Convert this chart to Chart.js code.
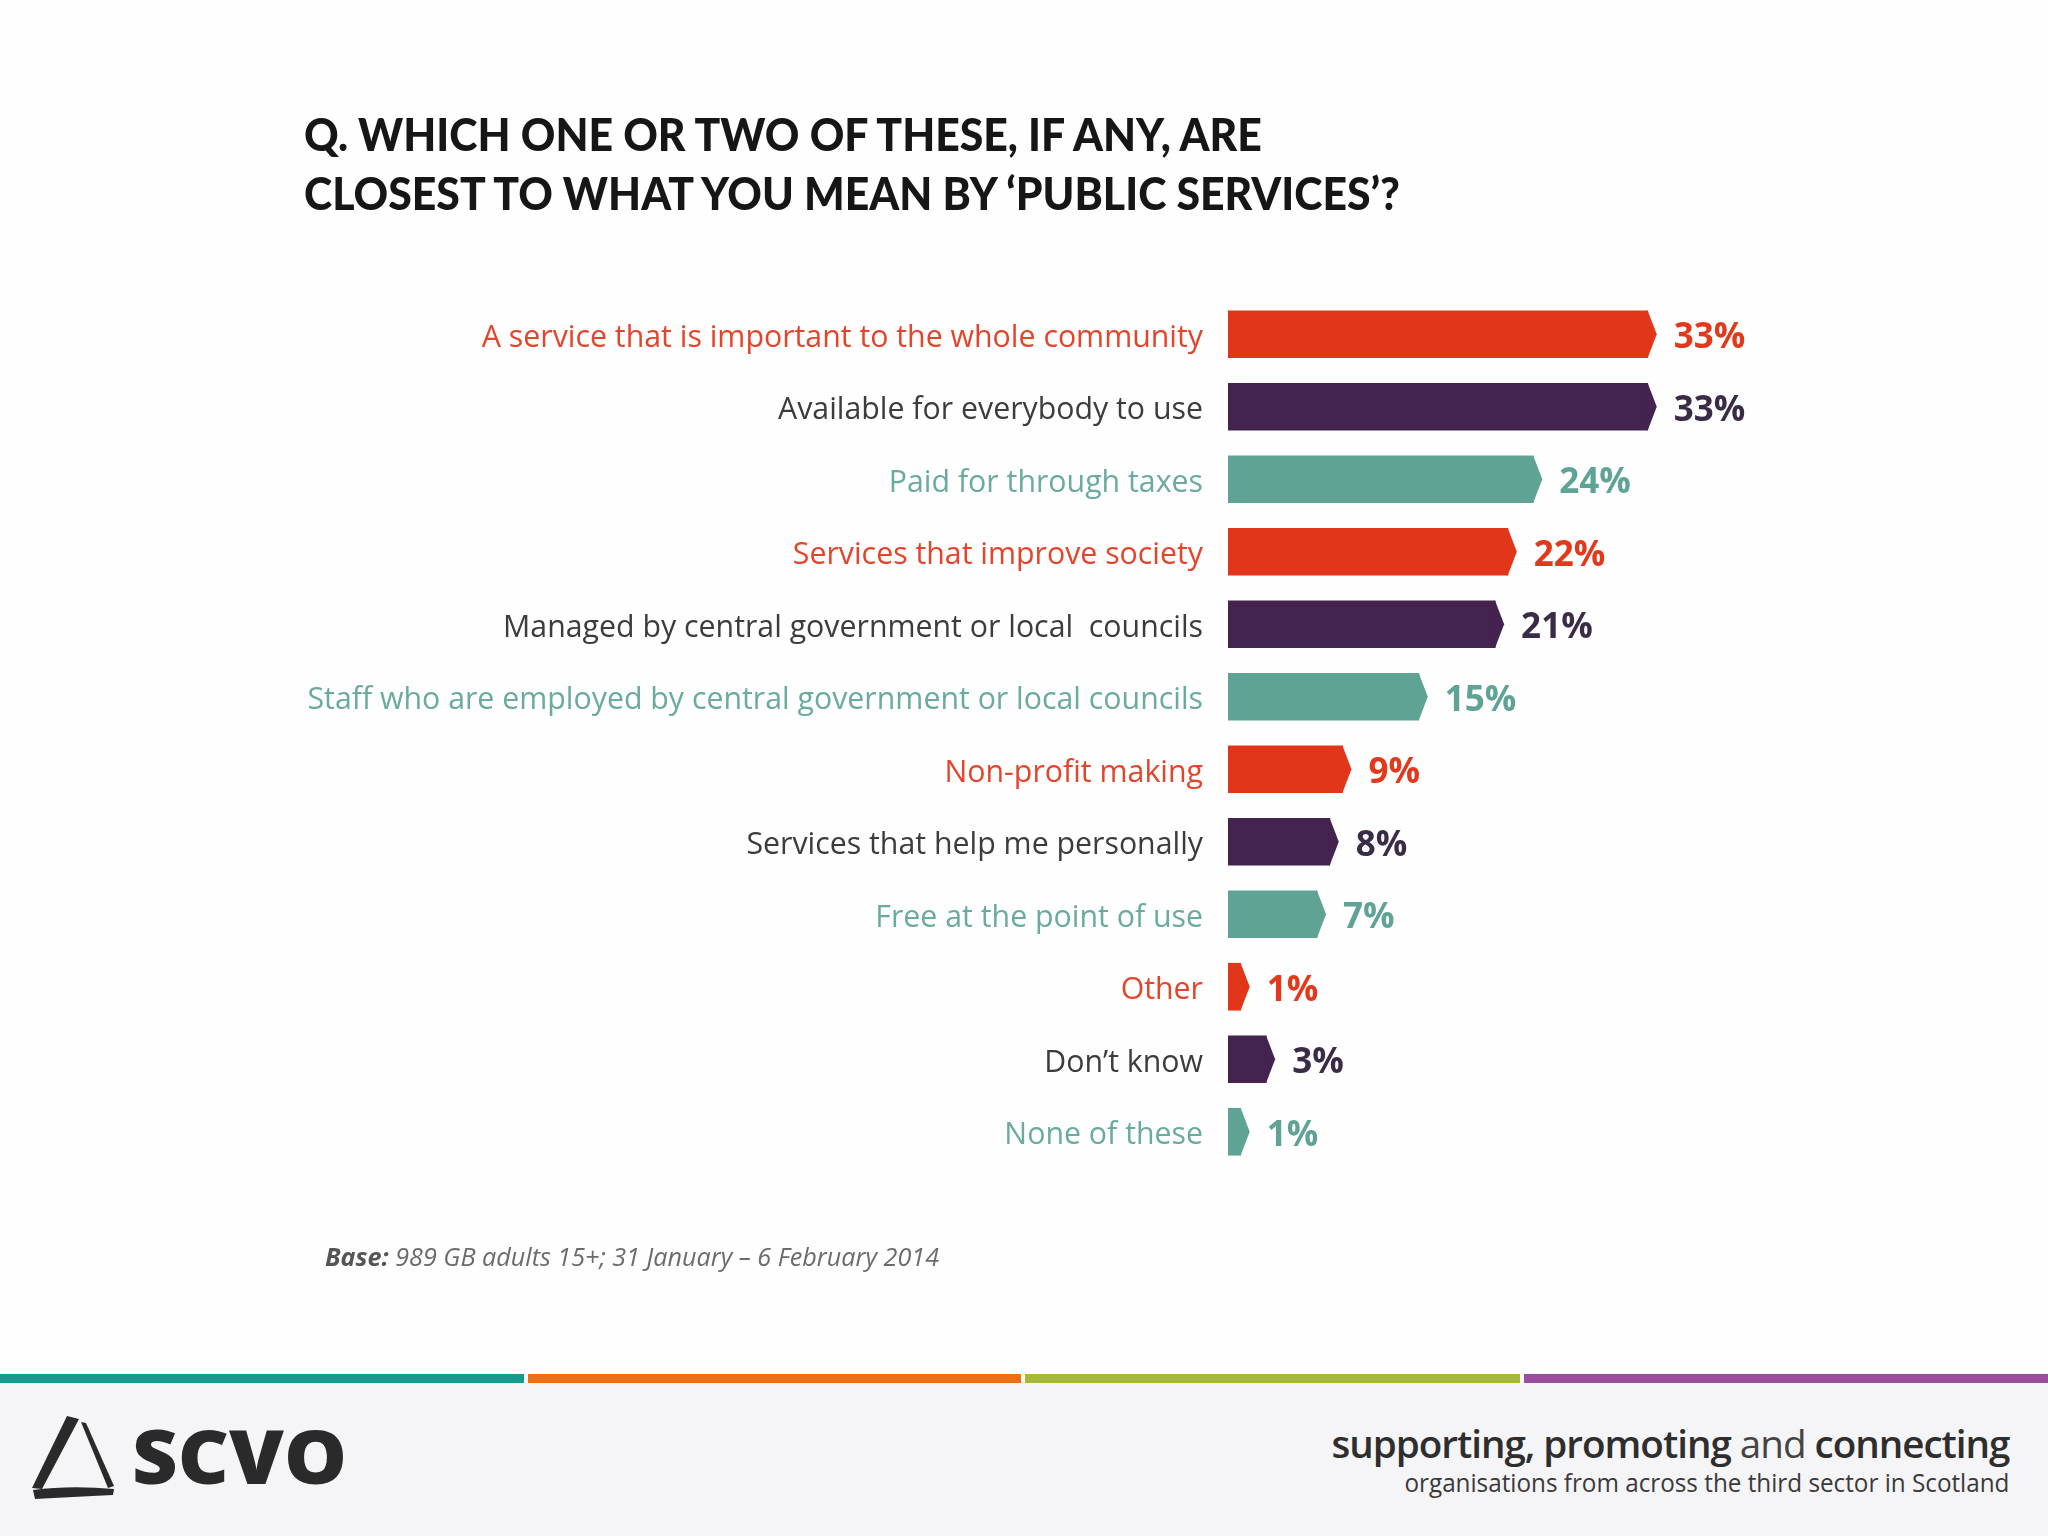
<!DOCTYPE html>
<html>
<head>
<meta charset="utf-8">
<script src="https://cdn.jsdelivr.net/npm/chart.js@4.4.1/dist/chart.umd.min.js"></script>
<style>
  html,body{margin:0;padding:0;background:#fefefe;}
  #page{position:relative;width:2048px;height:1536px;overflow:hidden;background:#fefefe;}
  #c{position:absolute;left:0;top:0;}
  .txt{position:absolute;white-space:nowrap;line-height:1;}
  .title{font-family:Lato,"Open Sans",sans-serif;font-weight:900;font-size:46px;color:#161616;left:304px;}
  #footer{position:absolute;left:0;top:1382px;width:2048px;height:154px;background:#f5f4f6;}
  .stripe{position:absolute;top:1374px;height:9px;}
</style>
</head>
<body>
<div id="page">
  <canvas id="c" width="2048" height="1536"></canvas>
  <div class="txt title" id="t1" style="top:134px">Q. WHICH ONE OR TWO OF THESE, IF ANY, ARE</div>
  <div class="txt title" id="t2" style="top:193px">CLOSEST TO WHAT YOU MEAN BY ‘PUBLIC SERVICES’?</div>
  <div class="txt" id="base" style="left:325px;top:1256px;font-family:'Open Sans',sans-serif;font-style:italic;font-size:25px;color:#6b6b6b;"><b style="color:#555">Base:</b> 989 GB adults 15+; 31 January – 6 February 2014</div>
  <div id="footer"></div>
  <div class="stripe" style="left:0;width:524px;background:#17998c"></div>
  <div class="stripe" style="left:528px;width:493px;background:#ef7012"></div>
  <div class="stripe" style="left:1025px;width:495px;background:#a5b838"></div>
  <div class="stripe" style="left:1524px;width:524px;background:#994f9c"></div>
  <svg style="position:absolute;left:0;top:1400px" width="140" height="110" viewBox="0 0 140 110">
    <path d="M67,16 L79,19 L42,89 L32,88 Z" fill="#2a2a2a"/>
    <path d="M81,22 L86,23 L114,86 L108,88 Z" fill="#2a2a2a"/>
    <path d="M33,90 Q70,85 114,89 L113,95 Q72,97 35,99 Z" fill="#2a2a2a"/>
  </svg>
  <div class="txt" id="logo" style="left:132px;top:1456px;font-family:'Open Sans',sans-serif;font-weight:800;font-size:74px;color:#2a2a2a;">SCVO</div>
  <div class="txt" id="tag1" style="right:39px;top:1443px;font-family:'Open Sans',sans-serif;font-size:38px;color:#2e2e2e;letter-spacing:-1px"><span style="font-weight:600">supporting, promoting</span> <span style="font-weight:400;color:#444">and</span> <span style="font-weight:600">connecting</span></div>
  <div class="txt" id="tag2" style="right:39px;top:1482px;font-family:'Open Sans',sans-serif;font-size:25px;color:#3a3a3a;">organisations from across the third sector in Scotland</div>
</div>
<script>
// ---- data ----
const categories = [
  "A service that is important to the whole community",
  "Available for everybody to use",
  "Paid for through taxes",
  "Services that improve society",
  "Managed by central government or local  councils",
  "Staff who are employed by central government or local councils",
  "Non-profit making",
  "Services that help me personally",
  "Free at the point of use",
  "Other",
  "Don’t know",
  "None of these"
];
const values = [33, 33, 24, 22, 21, 15, 9, 8, 7, 1, 3, 1];
const valueLabels = ["33%", "33%", "24%", "22%", "21%", "15%", "9%", "8%", "7%", "1%", "3%", "1%"];

// ---- styles ----
const barColors = ["#e1361a", "#45234f", "#5fa395"];
const labelColors = ["#e4442a", "#3c3c3c", "#6aab9d"];
const valueColors = ["#e2391c", "#3a2c47", "#5fa395"];
const TIP = 9;

function fitText(id, targetW, origin) {
  const el = document.getElementById(id);
  const w = el.getBoundingClientRect().width;
  el.style.transformOrigin = origin + " center";
  el.style.transform = "translateY(-50%) scaleX(" + (targetW / w) + ")";
  return targetW / w;
}
function fitPair() {
  const e2 = document.getElementById('t2');
  const w = e2.getBoundingClientRect().width;
  const s = 1096 / w;
  ['t1', 't2'].forEach(id => {
    const el = document.getElementById(id);
    el.style.transformOrigin = "left center";
    el.style.transform = "translateY(-50%) scaleX(" + s + ")";
  });
}
fitPair();
fitText('base', 614, 'left');
fitText('logo', 215, 'left');
fitText('tag1', 678, 'right');
fitText('tag2', 605, 'right');

// fit tick label font size so label widths match reference
const mctx = document.createElement('canvas').getContext('2d');
mctx.font = '100px "Open Sans"';
const wA = mctx.measureText(categories[0]).width;
const wB = mctx.measureText(categories[5]).width;
const tickSize = Math.round(((721 / wA) + (896 / wB)) / 2 * 100 * 10) / 10;

const arrowPlugin = {
  id: 'arrowTips',
  afterDatasetsDraw(chart) {
    const ctx = chart.ctx;
    const meta = chart.getDatasetMeta(0);
    ctx.save();
    meta.data.forEach((bar, i) => {
      const p = bar.getProps(['x', 'y', 'height'], true);
      const top = p.y - p.height / 2, bot = p.y + p.height / 2;
      ctx.fillStyle = barColors[i % 3];
      ctx.beginPath();
      ctx.moveTo(p.x - 1, top);
      ctx.lineTo(p.x, top);
      ctx.lineTo(p.x + TIP, p.y);
      ctx.lineTo(p.x, bot);
      ctx.lineTo(p.x - 1, bot);
      ctx.closePath();
      ctx.fill();
      ctx.fillStyle = valueColors[i % 3];
      ctx.font = 'bold 35px "Open Sans"';
      ctx.textBaseline = 'middle';
      ctx.textAlign = 'left';
      ctx.fillText(valueLabels[i], p.x + TIP + 17, p.y + 4);
    });
    ctx.restore();
  }
};

new Chart(document.getElementById('c'), {
  type: 'bar',
  data: {
    labels: categories,
    datasets: [{
      data: values,
      backgroundColor: categories.map((_, i) => barColors[i % 3]),
      barThickness: 47,
      borderWidth: 0
    }]
  },
  options: {
    indexAxis: 'y',
    responsive: false,
    devicePixelRatio: 1,
    animation: false,
    layout: { padding: { top: 298, bottom: 368, left: 0, right: 184 } },
    plugins: { legend: { display: false }, tooltip: { enabled: false }, title: { display: false } },
    scales: {
      x: { display: false, min: 0, max: 50 },
      y: {
        afterFit(s) { s.width = 1228; },
        grid: { display: false, drawTicks: false },
        border: { display: false },
        ticks: {
          padding: 25,
          labelOffset: 4,
          font: { family: '"Open Sans"', size: tickSize },
          color: (c) => labelColors[c.index % 3]
        }
      }
    }
  },
  plugins: [arrowPlugin]
});
</script>
</body>
</html>
